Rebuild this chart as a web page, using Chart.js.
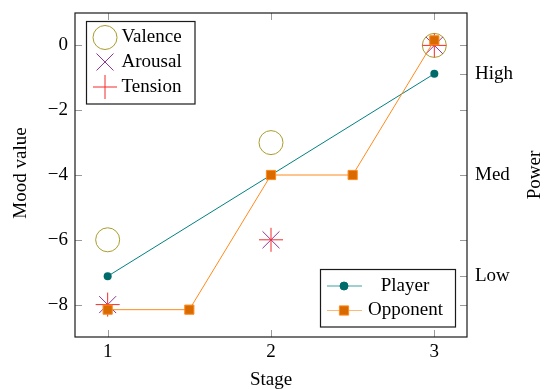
<!DOCTYPE html>
<html>
<head>
<meta charset="utf-8">
<script src="https://cdn.jsdelivr.net/npm/chart.js@4/dist/chart.umd.min.js"></script>
<style>
  html, body { margin: 0; padding: 0; background: #fff; }
  #wrap { width: 545px; height: 389px; position: relative; }
</style>
</head>
<body>
<div id="wrap"><canvas id="chart"></canvas></div>
<script>
// data
const stages = [1, 2, 3];
const valence = [-6, -3, 0];
const arousal = [-8, -6, 0];
const tension = [-8, -6, 0];
const playerPower = [1, 2, 3];
const opponentStages = [1, 1.5, 2, 2.5, 3];
const opponentPower = [0.67, 0.67, 2, 2, 3.33];

const moodTicks = [-8, -6, -4, -2, 0];
const powerTicks = [1, 2, 3];
const powerLabels = ['Low', 'Med', 'High'];

const FONT = '"Liberation Serif", "DejaVu Serif", serif';
const OLIVE = '#aa9c2c';
const VIOLET = '#94309a';
const RED = '#f52a2a';
const TEAL = '#008080';
const TEAL_DARK = '#006b6b';
const ORANGE = '#ff8a1c';
const ORANGE_DARK = '#d96a00';

function pts(xs, ys) {
  return xs.map((x, i) => ({ x: x, y: ys[i] }));
}

function minus(v) {
  return v < 0 ? '\u2212' + Math.abs(v) : String(v);
}

// marker drawing for the legends
function marker(ctx, style, x, y, r, stroke, fill) {
  ctx.save();
  ctx.strokeStyle = stroke;
  ctx.fillStyle = fill || stroke;
  ctx.lineWidth = 1;
  ctx.beginPath();
  if (style === 'circle') {
    ctx.arc(x, y, r, 0, Math.PI * 2);
    if (fill) ctx.fill();
    ctx.stroke();
  } else if (style === 'crossRot') {
    const d = r * Math.SQRT1_2;
    ctx.moveTo(x - d, y - d); ctx.lineTo(x + d, y + d);
    ctx.moveTo(x - d, y + d); ctx.lineTo(x + d, y - d);
    ctx.stroke();
  } else if (style === 'cross') {
    ctx.moveTo(x - r, y); ctx.lineTo(x + r, y);
    ctx.moveTo(x, y - r); ctx.lineTo(x, y + r);
    ctx.stroke();
  } else if (style === 'rect') {
    const s = r * Math.SQRT1_2;
    ctx.rect(x - s, y - s, 2 * s, 2 * s);
    ctx.fill();
    ctx.stroke();
  }
  ctx.restore();
}

// frame and inward ticks, like pgfplots
const frameTicks = {
  id: 'frameTicks',
  beforeDatasetsDraw(chart) {
    const { ctx, chartArea: a, scales } = chart;
    const len = 7;
    ctx.save();
    ctx.strokeStyle = '#9a9a9a';
    ctx.lineWidth = 1;
    ctx.beginPath();
    stages.forEach(v => {
      const px = Math.round(scales.x.getPixelForValue(v)) + 0.5;
      ctx.moveTo(px, a.bottom); ctx.lineTo(px, a.bottom - len);
      ctx.moveTo(px, a.top); ctx.lineTo(px, a.top + len);
    });
    moodTicks.forEach(v => {
      const py = Math.round(scales.y.getPixelForValue(v)) + 0.5;
      ctx.moveTo(a.left, py); ctx.lineTo(a.left + len, py);
      ctx.moveTo(a.right, py); ctx.lineTo(a.right - len, py);
    });
    powerTicks.forEach(v => {
      const py = Math.round(scales.y2.getPixelForValue(v)) + 0.5;
      ctx.moveTo(a.right, py); ctx.lineTo(a.right - len, py);
    });
    ctx.stroke();
    ctx.strokeStyle = '#1a1a1a';
    ctx.lineWidth = 1.2;
    ctx.strokeRect(a.left, a.top, a.right - a.left, a.bottom - a.top);
    ctx.restore();
  }
};

// axis titles and the two legend boxes
const extras = {
  id: 'extras',
  afterDraw(chart) {
    const { ctx, chartArea: a } = chart;
    ctx.save();
    ctx.fillStyle = '#000';
    ctx.font = '19px ' + FONT;
    ctx.textAlign = 'center';
    ctx.textBaseline = 'middle';
    ctx.fillText('Stage', (a.left + a.right) / 2, 380);
    ctx.save();
    ctx.translate(21, 173);
    ctx.rotate(-Math.PI / 2);
    ctx.fillText('Mood value', 0, 0);
    ctx.restore();
    ctx.save();
    ctx.translate(535, 175);
    ctx.rotate(-Math.PI / 2);
    ctx.fillText('Power', 0, 0);
    ctx.restore();

    // legend 1, top left
    ctx.fillStyle = '#fff';
    ctx.fillRect(86.5, 21.5, 108.5, 82.5);
    ctx.strokeStyle = '#1a1a1a';
    ctx.lineWidth = 1.2;
    ctx.strokeRect(86.5, 21.5, 108.5, 82.5);
    marker(ctx, 'circle', 105, 37.5, 12, OLIVE);
    marker(ctx, 'crossRot', 105, 62, 12, VIOLET);
    marker(ctx, 'cross', 105, 87, 12, RED);
    ctx.fillStyle = '#000';
    ctx.textAlign = 'left';
    ctx.fillText('Valence', 121.5, 37.5);
    ctx.fillText('Arousal', 121.5, 62);
    ctx.fillText('Tension', 121.5, 87);

    // legend 2, bottom right
    ctx.fillStyle = '#fff';
    ctx.fillRect(320.5, 269.5, 135, 57.5);
    ctx.strokeRect(320.5, 269.5, 135, 57.5);
    ctx.lineWidth = 1.2;
    ctx.strokeStyle = 'rgba(0,128,128,0.75)';
    ctx.beginPath(); ctx.moveTo(327, 286); ctx.lineTo(362, 286); ctx.stroke();
    ctx.strokeStyle = 'rgba(255,138,28,0.6)';
    ctx.beginPath(); ctx.moveTo(327, 310.5); ctx.lineTo(362, 310.5); ctx.stroke();
    marker(ctx, 'circle', 344, 286, 4, TEAL_DARK, TEAL_DARK);
    marker(ctx, 'rect', 344, 310.5, 6.5, ORANGE, ORANGE_DARK);
    ctx.fillStyle = '#000';
    ctx.textAlign = 'center';
    ctx.fillText('Player', 405, 286);
    ctx.fillText('Opponent', 405.5, 310.5);
    ctx.restore();
  }
};

// fixed box sizes so the plot area sits where it does in the picture
function fixV(width) {
  return s => { s.width = width; s.paddingTop = 0; s.paddingBottom = 0; };
}

new Chart(document.getElementById('chart'), {
  type: 'line',
  data: {
    datasets: [
      {
        label: 'Valence',
        data: pts(stages, valence),
        yAxisID: 'y',
        showLine: false,
        pointStyle: 'circle',
        pointRadius: 12,
        pointBorderWidth: 1,
        pointBorderColor: OLIVE,
        pointBackgroundColor: 'rgba(0,0,0,0)',
        order: 4
      },
      {
        label: 'Arousal',
        data: pts(stages, arousal),
        yAxisID: 'y',
        showLine: false,
        pointStyle: 'crossRot',
        pointRadius: 12,
        pointBorderWidth: 1,
        pointBorderColor: VIOLET,
        order: 3
      },
      {
        label: 'Tension',
        data: pts(stages, tension),
        yAxisID: 'y',
        showLine: false,
        pointStyle: 'cross',
        pointRadius: 12,
        pointBorderWidth: 1,
        pointBorderColor: RED,
        order: 2
      },
      {
        label: 'Player',
        data: pts(stages, playerPower),
        yAxisID: 'y2',
        borderColor: TEAL,
        borderWidth: 1,
        tension: 0,
        pointStyle: 'circle',
        pointRadius: 4,
        pointBorderWidth: 0,
        pointBackgroundColor: TEAL_DARK,
        order: 1
      },
      {
        label: 'Opponent',
        data: pts(opponentStages, opponentPower),
        yAxisID: 'y2',
        borderColor: ORANGE,
        borderWidth: 1,
        tension: 0,
        pointStyle: 'rect',
        pointRadius: 6.5,
        pointBorderWidth: 1,
        pointBorderColor: ORANGE,
        pointBackgroundColor: ORANGE_DARK,
        order: 0
      }
    ]
  },
  options: {
    responsive: true,
    maintainAspectRatio: false,
    animation: false,
    events: [],
    layout: { padding: { top: 11, left: 0, right: 0, bottom: 0 } },
    plugins: {
      legend: { display: false },
      tooltip: { enabled: false },
      title: { display: false }
    },
    scales: {
      x: {
        type: 'linear',
        min: 0.8,
        max: 3.2,
        grid: { display: false, drawTicks: false },
        border: { display: false },
        afterBuildTicks: s => { s.ticks = stages.map(v => ({ value: v })); },
        afterFit: s => { s.height = 52; s.paddingLeft = 0; s.paddingRight = 0; },
        ticks: {
          padding: 4,
          color: '#000',
          font: { family: FONT, size: 19 },
          callback: v => minus(v)
        }
      },
      y: {
        type: 'linear',
        position: 'left',
        min: -9,
        max: 1,
        grid: { display: false, drawTicks: false },
        border: { display: false },
        afterBuildTicks: s => { s.ticks = moodTicks.map(v => ({ value: v })); },
        afterFit: fixV(75),
        ticks: {
          padding: 7,
          color: '#000',
          font: { family: FONT, size: 19 },
          callback: v => minus(v)
        }
      },
      y2: {
        type: 'linear',
        position: 'right',
        min: 0.4,
        max: 3.6,
        grid: { display: false, drawTicks: false },
        border: { display: false },
        afterBuildTicks: s => { s.ticks = powerTicks.map(v => ({ value: v })); },
        afterFit: fixV(78),
        ticks: {
          padding: 8,
          color: '#000',
          font: { family: FONT, size: 19 },
          callback: v => powerLabels[powerTicks.indexOf(v)]
        }
      }
    }
  },
  plugins: [frameTicks, extras]
});
</script>
</body>
</html>
